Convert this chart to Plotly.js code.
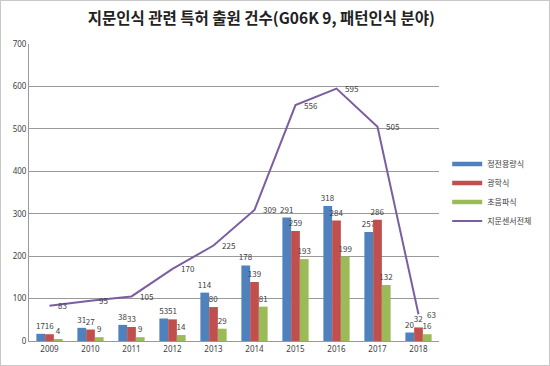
<!DOCTYPE html>
<html><head><meta charset="utf-8">
<script src="https://cdn.plot.ly/plotly-3.0.1.min.js"></script>
<style>
html,body{margin:0;padding:0;background:#fff;}
#wrap{width:548px;height:364px;border:1px solid #c8c8c8;overflow:hidden;}
#chart{width:548px;height:364px;}
</style></head>
<body><div id="wrap"><div id="chart"></div></div>
<script>
const years = ['2009','2010','2011','2012','2013','2014','2015','2016','2017','2018'];
const capacitive = [17,31,38,53,114,178,291,318,257,20];
const optical = [16,27,33,51,80,139,259,284,286,32];
const ultrasonic = [4,9,9,14,29,81,193,199,132,16];
const total = [83,95,105,170,225,309,556,595,505,63];
const names = ['정전용량식','광학식','초음파식','지문센서전체'];
const colors = ['#4F81BD','#C0504D','#9BBB59','#7B5EA0'];
const titleText = '지문인식 관련 특허 출원 건수(G06K 9, 패턴인식 분야)';

const lblFont = {family:'Noto Sans CJK KR, Noto Sans, sans-serif', size:8, color:'#404040'};
function bar(y, name, color){
  return {type:'bar', x:years, y:y, name:name, marker:{color:color}, showlegend:false,
    text:y.map(String), textposition:'outside', cliponaxis:false, constraintext:'none',
    textfont:lblFont, hoverinfo:'x+y'};
}
function legendKey(name, color, w){
  return {type:'scatter', mode:'lines', x:[null], y:[null], name:name,
    line:{color:color, width:w}, hoverinfo:'skip'};
}
const data = [
  bar(capacitive, names[0], colors[0]),
  bar(optical, names[1], colors[1]),
  bar(ultrasonic, names[2], colors[2]),
  {type:'scatter', mode:'lines', x:years, y:total, name:names[3], showlegend:false,
   line:{color:colors[3], width:2}, cliponaxis:false},
  legendKey(names[0], colors[0], 4.5),
  legendKey(names[1], colors[1], 4.5),
  legendKey(names[2], colors[2], 4.5),
  legendKey(names[3], colors[3], 2)
];
const annotations = total.map((v,i)=>({x:i, y:v, xref:'x', yref:'y', text:String(v),
  showarrow:false, xanchor:'left', yanchor:'middle', xshift:6, yshift:0, font:lblFont}));
const layout = {
  width:548, height:364,
  margin:{l:28, r:93, t:43, b:24},
  paper_bgcolor:'#fff', plot_bgcolor:'#fff',
  title:{text:titleText, x:0.475, xanchor:'center', y:0.953, yanchor:'middle',
    font:{family:'Noto Sans CJK KR, sans-serif', size:15.5, color:'#222', weight:'bold'}},
  barmode:'group', bargap:0.36, bargroupgap:0,
  showlegend:true,
  annotations:annotations,
  legend:{x:1.02, y:0.5, xanchor:'left', yanchor:'middle', tracegroupgap:0,
    font:{family:'Noto Sans CJK KR, sans-serif', size:8, color:'#404040'}, itemwidth:30},
  xaxis:{type:'category', range:[-0.5,9.5], showline:true, linecolor:'#999', linewidth:1, ticks:'',
    tickfont:{family:'Noto Sans, sans-serif', size:8, color:'#404040'}},
  yaxis:{range:[0,700], dtick:100, showgrid:true, gridcolor:'#9a9a9a', gridwidth:1,
    showline:true, linecolor:'#999', zeroline:false, ticks:'',
    tickfont:{family:'Noto Sans, sans-serif', size:8, color:'#404040'}}
};
Plotly.newPlot('chart', data, layout, {displayModeBar:false});
</script></body></html>
